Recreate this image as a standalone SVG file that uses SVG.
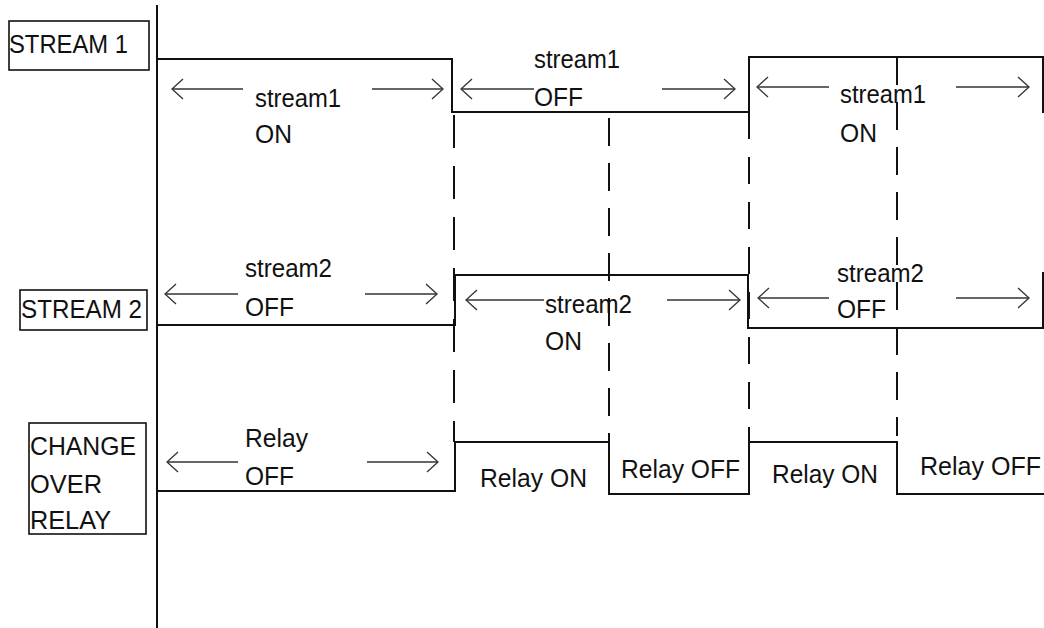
<svg xmlns="http://www.w3.org/2000/svg" width="1044" height="628" viewBox="0 0 1044 628">
<defs>
<style>
text{font-family:"Liberation Sans",Arial,sans-serif;font-size:26px;fill:#111;}
.wave{fill:none;stroke:#111;stroke-width:2;}
.box{fill:none;stroke:#111;stroke-width:1.6;}
.dash{fill:none;stroke:#111;stroke-width:2;}
.arr{fill:none;stroke:#333;stroke-width:1.3;}
</style>
<marker id="chev" markerUnits="userSpaceOnUse" markerWidth="24" markerHeight="24" viewBox="-12 -12 24 24" refX="0" refY="0" orient="auto-start-reverse" overflow="visible">
<path d="M-11,-10 L0,0 L-11,10" fill="none" stroke="#333" stroke-width="1.3"/>
</marker>
</defs>
<rect width="1044" height="628" fill="#fff"/>

<g id="axis"><path class="wave" d="M157,5 V628"/></g>

<g id="label-stream1">
<rect class="box" x="9" y="21" width="140" height="49"/>
<text x="9" y="53" textLength="119" lengthAdjust="spacingAndGlyphs">STREAM 1</text>
</g>
<g id="label-stream2">
<rect class="box" x="20" y="290" width="127" height="40"/>
<text x="21" y="318" textLength="121" lengthAdjust="spacingAndGlyphs">STREAM 2</text>
</g>
<g id="label-relay">
<rect class="box" x="29" y="423" width="117" height="111"/>
<text x="30" y="455" textLength="106" lengthAdjust="spacingAndGlyphs">CHANGE</text>
<text x="30" y="493" textLength="72" lengthAdjust="spacingAndGlyphs">OVER</text>
<text x="30" y="529" textLength="81" lengthAdjust="spacingAndGlyphs">RELAY</text>
</g>

<g id="waveforms">
<path id="wave-stream1" class="wave" d="M157,59 H452 V112 H749 V57 H1043 V113"/>
<path id="wave-stream2" class="wave" d="M157,325 H455 V275 H748 V328 H1043 V272"/>
<path id="wave-relay" class="wave" d="M157,491 H455 V442 H609 V494 H749 V442 H897 V494 H1044"/>
</g>

<g id="dashed-lines">
<path class="dash" d="M454,115 V442" stroke-dasharray="33 18"/>
<path class="dash" d="M609,118 V442" stroke-dasharray="28 17"/>
<path class="dash" d="M749,112 V442" stroke-dasharray="27 18"/>
<path class="dash" d="M897,57 V436" stroke-dasharray="28 17"/>
</g>

<g id="connectors">
<line class="arr" x1="172" y1="89" x2="243" y2="89" marker-start="url(#chev)"/>
<line class="arr" x1="372" y1="89" x2="443" y2="89" marker-end="url(#chev)"/>
<line class="arr" x1="461" y1="89" x2="534" y2="89" marker-start="url(#chev)"/>
<line class="arr" x1="662" y1="89" x2="735" y2="89" marker-end="url(#chev)"/>
<line class="arr" x1="757" y1="87" x2="829" y2="87" marker-start="url(#chev)"/>
<line class="arr" x1="956" y1="87" x2="1029" y2="87" marker-end="url(#chev)"/>
<line class="arr" x1="165" y1="294" x2="238" y2="294" marker-start="url(#chev)"/>
<line class="arr" x1="365" y1="294" x2="437" y2="294" marker-end="url(#chev)"/>
<line class="arr" x1="466" y1="300" x2="544" y2="300" marker-start="url(#chev)"/>
<line class="arr" x1="667" y1="300" x2="740" y2="300" marker-end="url(#chev)"/>
<line class="arr" x1="758" y1="298" x2="829" y2="298" marker-start="url(#chev)"/>
<line class="arr" x1="956" y1="298" x2="1029" y2="298" marker-end="url(#chev)"/>
<line class="arr" x1="167" y1="462" x2="238" y2="462" marker-start="url(#chev)"/>
<line class="arr" x1="367" y1="462" x2="438" y2="462" marker-end="url(#chev)"/>
</g>

<g id="state-labels">
<text x="255" y="107" textLength="86" lengthAdjust="spacingAndGlyphs">stream1</text>
<text x="255" y="143" textLength="37" lengthAdjust="spacingAndGlyphs">ON</text>
<text x="534" y="68" textLength="86" lengthAdjust="spacingAndGlyphs">stream1</text>
<text x="534" y="106" textLength="49" lengthAdjust="spacingAndGlyphs">OFF</text>
<text x="840" y="103" textLength="86" lengthAdjust="spacingAndGlyphs">stream1</text>
<text x="840" y="142" textLength="37" lengthAdjust="spacingAndGlyphs">ON</text>
<text x="245" y="277" textLength="87" lengthAdjust="spacingAndGlyphs">stream2</text>
<text x="245" y="316" textLength="49" lengthAdjust="spacingAndGlyphs">OFF</text>
<text x="545" y="313" textLength="87" lengthAdjust="spacingAndGlyphs">stream2</text>
<text x="545" y="350" textLength="37" lengthAdjust="spacingAndGlyphs">ON</text>
<text x="837" y="282" textLength="87" lengthAdjust="spacingAndGlyphs">stream2</text>
<text x="837" y="318" textLength="49" lengthAdjust="spacingAndGlyphs">OFF</text>
<text x="245" y="447" textLength="63" lengthAdjust="spacingAndGlyphs">Relay</text>
<text x="245" y="485" textLength="49" lengthAdjust="spacingAndGlyphs">OFF</text>
<text x="480" y="487" textLength="107" lengthAdjust="spacingAndGlyphs">Relay ON</text>
<text x="621" y="478" textLength="119" lengthAdjust="spacingAndGlyphs">Relay OFF</text>
<text x="772" y="483" textLength="106" lengthAdjust="spacingAndGlyphs">Relay ON</text>
<text x="920" y="475" textLength="121" lengthAdjust="spacingAndGlyphs">Relay OFF</text>
</g>
</svg>
